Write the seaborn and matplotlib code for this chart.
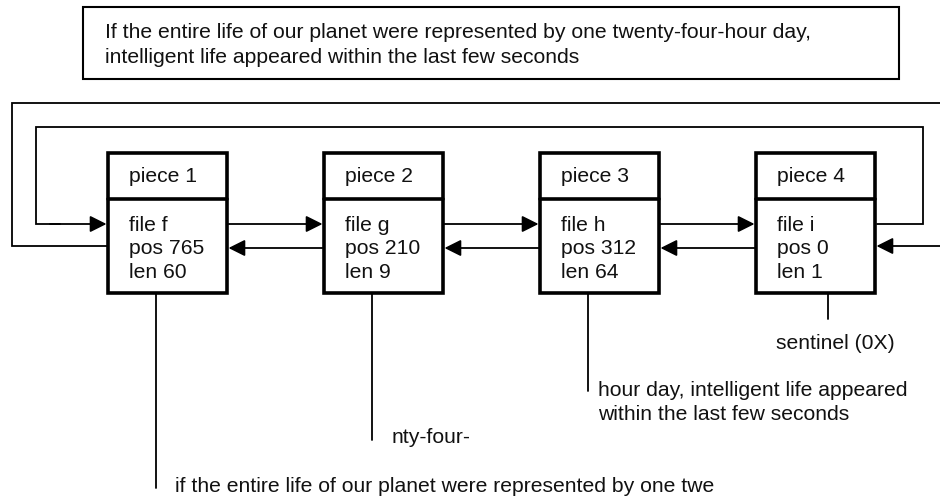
import matplotlib
matplotlib.use("Agg")
import matplotlib.pyplot as plt
import seaborn as sns
from matplotlib.patches import Rectangle

# -------------------------
# Diagram content
# -------------------------
headline = ["If the entire life of our planet were represented by one twenty-four-hour day,",
            "intelligent life appeared within the last few seconds"]
pieces = ["piece 1", "piece 2", "piece 3", "piece 4"]
files = ["f", "g", "h", "i"]
positions = [765, 210, 312, 0]
lengths = [60, 9, 64, 1]
spans = ["if the entire life of our planet were represented by one twe",
         "nty-four-",
         "hour day, intelligent life appeared\nwithin the last few seconds",
         "sentinel (0X)"]

sns.set_theme(style="white")
plt.rcParams['font.family'] = ['Liberation Sans', 'DejaVu Sans']

fig = plt.figure(figsize=(9.4, 5), dpi=100)
ax = fig.add_axes([0, 0, 1, 1])
ax.set_xlim(0, 940)
ax.set_ylim(500, 0)
ax.axis("off")

FS = 15.2
THIN = 1.3
THICK = 2.6
LINE = 23.5

# layout (pixels)
box_left0, box_step, box_w = 108, 216, 119
box_top, box_mid, box_bot = 152.5, 199, 292.5
y_next, y_prev, y_outer = 224, 248, 246
leader_dx = [48, 48, 48, 72]
leader_end = [488, 440, 391, 319]
label_xy = [(175, 492), (392, 443), (598, 396), (776, 349)]


def arrow(x0, y0, x1, y1):
    ax.annotate("", xy=(x1, y1), xytext=(x0, y0),
                arrowprops=dict(arrowstyle="-|>,head_length=1.0,head_width=0.5",
                                mutation_scale=10, lw=THIN, color="black",
                                shrinkA=0, shrinkB=0))


def lines_of_text(x, y, text):
    for k, line in enumerate(text.split("\n")):
        ax.text(x, y + k * LINE, line, fontsize=FS, va="baseline", ha="left", color="#111111")


# headline box
ax.add_patch(Rectangle((83, 7), 816, 72, fill=False, lw=1.5, ec="black"))
lines_of_text(105, 38, headline[0])
lines_of_text(105, 63, headline[1])

# pieces
for i in range(len(pieces)):
    left = box_left0 + i * box_step
    right = left + box_w
    ax.add_patch(Rectangle((left, box_top), box_w, box_bot - box_top,
                           fill=False, lw=THICK, ec="black", zorder=3))
    ax.plot([left, right], [box_mid, box_mid], color="black", lw=THICK, zorder=3)
    lines_of_text(left + 21, 182, pieces[i])
    lines_of_text(left + 21, 231, f"file {files[i]}\npos {positions[i]}\nlen {lengths[i]}")

    # leader line to the text span
    lx = left + leader_dx[i]
    ax.plot([lx, lx], [box_bot, leader_end[i]], color="black", lw=THIN)
    lines_of_text(label_xy[i][0], label_xy[i][1], spans[i])

    # links between neighbours
    if i < len(pieces) - 1:
        nxt = left + box_step
        arrow(right + 1.5, y_next, nxt - 1.5, y_next)
        arrow(nxt - 1.5, y_prev, right + 1.5, y_prev)

first_left = box_left0 - 1.5
last_right = box_left0 + 3 * box_step + box_w + 1.5

# inner loop: last piece -> first piece
ax.plot([last_right, 923, 923, 36, 36, 60], [y_next, y_next, 127, 127, y_next, y_next],
        color="black", lw=THIN, solid_joinstyle="miter")
arrow(50, y_next, first_left, y_next)

# outer loop: first piece out to the right edge, and back into the last piece
ax.plot([first_left, 12, 12, 945], [y_outer, y_outer, 103, 103],
        color="black", lw=THIN, solid_joinstyle="miter")
arrow(945, y_outer, last_right, y_outer)

plt.savefig("out.png", dpi=100)
